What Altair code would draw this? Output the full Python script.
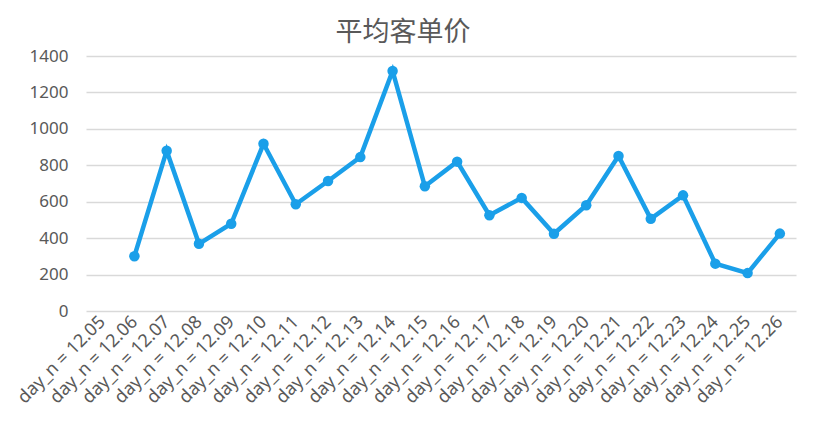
import altair as alt
import pandas as pd

days = ["12.05", "12.06", "12.07", "12.08", "12.09", "12.10", "12.11", "12.12",
        "12.13", "12.14", "12.15", "12.16", "12.17", "12.18", "12.19", "12.20",
        "12.21", "12.22", "12.23", "12.24", "12.25", "12.26"]
values = [None, 301, 880, 369, 479, 918, 586, 714, 845, 1318, 685, 820, 526,
          621, 424, 581, 851, 506, 635, 260, 208, 425]
y_ticks = [0, 200, 400, 600, 800, 1000, 1200, 1400]

labels = ["day_n = " + d for d in days]
df = pd.DataFrame({"day": labels, "value": values}).dropna()

COLOR = "#1A9FE9"

x = alt.X("day:N", sort=labels,
          scale=alt.Scale(type="point", padding=0.5, domain=labels),
          axis=alt.Axis(title=None, labelAngle=-45, labelAlign="right",
                        labelBaseline="middle", domain=False, ticks=False,
                        labelPadding=8, labelFontSize=18, labelColor="#595959",
                        labelFont="Noto Sans", grid=False))
y = alt.Y("value:Q", scale=alt.Scale(domain=[0, 1400], nice=False),
          axis=alt.Axis(title=None, values=y_ticks, format="d", domain=False, ticks=False,
                        labelPadding=18, labelFontSize=17, labelColor="#595959",
                        labelFont="Noto Sans", gridColor="#D9D9D9", gridWidth=1.5))

base = alt.Chart(df).encode(x=x, y=y)
line = base.mark_line(color=COLOR, strokeWidth=4.5)
pts = base.mark_point(color=COLOR, filled=True, opacity=1, size=110)

chart = (line + pts).properties(
    width=710, height=255,
    title=alt.TitleParams("平均客单价", font="Noto Sans CJK SC", fontSize=27,
                          fontWeight="normal", color="#595959", anchor="middle",
                          dx=-38, offset=0),
    autosize=alt.AutoSizeParams(type="none"),
    padding={"left": 78, "top": 48, "right": 12, "bottom": 100},
).configure(background="white").configure_view(stroke=None)

chart.save("out.html", embed_options={"renderer": "svg", "actions": False})
